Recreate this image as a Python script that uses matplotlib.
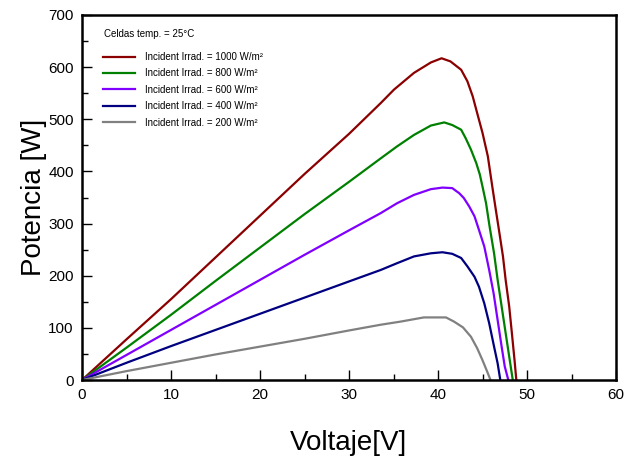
import matplotlib
matplotlib.use("Agg")
import matplotlib.pyplot as plt
from matplotlib.ticker import MultipleLocator

plt.rcParams['font.family'] = ['Liberation Sans', 'DejaVu Sans']

# Voltage / power data (V, W)
v_1000 = [0, 5, 10, 15, 20, 25, 30, 33.56, 35.06, 37.3, 39.2, 40.4, 41.4, 42.6, 43.3, 43.9, 44.4,
          45.0, 45.6, 46.1, 46.5, 46.9, 47.3, 47.6, 48.0, 48.3, 48.6, 48.8]
p_1000 = [0, 78, 155, 235, 315, 395, 472, 531, 557, 589, 609, 617, 611, 595, 573, 544, 512,
          474, 429, 371, 326, 282, 237, 192, 141, 90, 38, 0]

v_800 = [0, 5, 10, 15, 20, 25, 30, 33.56, 35.4, 37.3, 39.2, 40.7, 41.6, 42.6, 43.1, 43.7, 44.3,
         44.7, 45.0, 45.4, 45.8, 46.3, 46.7, 47.15, 47.6, 48.0, 48.4]
p_800 = [0, 62, 125, 190, 254, 318, 380, 425, 448, 470, 488, 494, 489, 480, 464, 442, 416,
         394, 371, 339, 294, 243, 192, 141, 90, 45, 0]

v_600 = [0, 5, 10, 15, 20, 25, 30, 33.56, 35.4, 37.3, 39.2, 40.5, 41.6, 42.4, 42.9, 43.5, 44.1,
         44.6, 45.2, 45.75, 46.25, 46.7, 47.15, 47.5, 47.9]
p_600 = [0, 48, 96, 144, 192, 240, 287, 320, 339, 355, 366, 369, 368, 358, 349, 333, 314,
         288, 256, 211, 166, 115, 64, 26, 0]

v_400 = [0, 5, 10, 15, 20, 25, 30, 33.56, 35.4, 37.3, 39.2, 40.5, 41.6, 42.6, 43.3, 44.1, 44.6,
         45.2, 45.75, 46.3, 46.7, 47.0]
p_400 = [0, 33, 65, 96, 127, 158, 189, 211, 224, 237, 243, 245, 242, 234, 218, 198, 179,
         147, 109, 64, 32, 0]

v_200 = [0, 5, 10, 15, 20, 25, 30, 33.56, 35.8, 38.4, 40.9, 41.8, 42.8, 43.7, 44.4, 45.0, 45.6, 45.9]
p_200 = [0, 17, 33, 49, 64, 79, 95, 106, 112, 120, 120, 112, 101, 83, 61, 38, 13, 0]

labels = ["Incident Irrad. = 1000 W/m²", "Incident Irrad. = 800 W/m²",
          "Incident Irrad. = 600 W/m²", "Incident Irrad. = 400 W/m²",
          "Incident Irrad. = 200 W/m²"]
colors = ["#8B0000", "#008000", "#8000FF", "#000080", "#808080"]
x_ticks = [0, 10, 20, 30, 40, 50, 60]
y_ticks = [0, 100, 200, 300, 400, 500, 600, 700]

fig = plt.figure(figsize=(6.36, 4.59), dpi=100)
ax = fig.add_axes([82/636, 1-380/459, (616-82)/636, (380-15)/459])

series = [(v_1000, p_1000), (v_800, p_800), (v_600, p_600), (v_400, p_400), (v_200, p_200)]
for (v, p), lab, c in zip(series, labels, colors):
    ax.plot(v, p, color=c, lw=1.6, label=lab)

ax.set_xlim(0, 60)
ax.set_ylim(0, 700)
ax.set_xticks(x_ticks)
ax.set_yticks(y_ticks)
ax.xaxis.set_minor_locator(MultipleLocator(5))
ax.yaxis.set_minor_locator(MultipleLocator(50))
ax.tick_params(which='both', direction='in', top=False, right=False, labelsize=11, width=1, pad=6)
ax.tick_params(which='major', length=7)
ax.tick_params(which='minor', length=4)
for s in ax.spines.values():
    s.set_linewidth(1.8)

ax.set_xlabel("Voltaje[V]", fontsize=20, labelpad=20)
ax.set_ylabel("Potencia [W]", fontsize=20, labelpad=1)

fig.text(104/636, 1-34/459, "Celdas temp. = 25°C", fontsize=7, ha='left', va='center')
ax.legend(loc='upper left', bbox_to_anchor=(103/636, 1-52/459), bbox_transform=fig.transFigure,
          frameon=False, fontsize=7, handlelength=3.3, handletextpad=1.0, labelspacing=0.66,
          borderpad=0, borderaxespad=0)

fig.savefig("out.png", dpi=100)
